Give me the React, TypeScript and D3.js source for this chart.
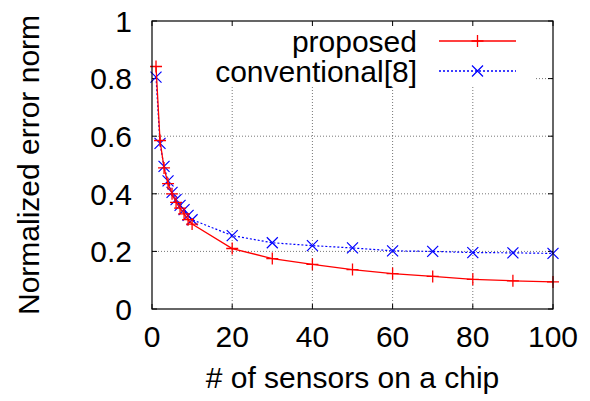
import { useEffect, useRef } from "react";
import * as d3 from "d3";

// sensor counts on the x axis
const sensorCounts = [1, 2, 3, 4, 5, 6, 7, 8, 9, 10, 20, 30, 40, 50, 60, 70, 80, 90, 100];
// normalized error norm
const proposedErr = [0.842, 0.585, 0.49, 0.435, 0.4, 0.37, 0.35, 0.33, 0.31, 0.295, 0.21, 0.175, 0.155, 0.137, 0.123, 0.113, 0.103, 0.098, 0.094];
const conventionalErr = [0.805, 0.575, 0.495, 0.445, 0.405, 0.38, 0.36, 0.345, 0.325, 0.31, 0.255, 0.23, 0.22, 0.212, 0.202, 0.2, 0.196, 0.195, 0.193];
const xTicks = [0, 20, 40, 60, 80, 100];
const yTicks = [0, 0.2, 0.4, 0.6, 0.8, 1];
const seriesNames = ["proposed", "conventional[8]"];

const FONT = "'Liberation Sans', Arial, Helvetica, sans-serif";
const FS = "30px";

const App = () => {
    const svgRef = useRef<SVGSVGElement>(null);

    useEffect(() => {
        document.body.style.margin = "0";
        const svg = d3.select(svgRef.current);
        svg.selectAll("*").remove();

        const width = 590, height = 401;
        const margin = { top: 21, right: 37, bottom: 92, left: 152 };
        const plotW = width - margin.left - margin.right;
        const plotH = height - margin.top - margin.bottom;

        const x = d3.scaleLinear().domain([0, 100]).range([0, plotW]);
        const y = d3.scaleLinear().domain([0, 1]).range([plotH, 0]);

        const g = svg.append("g").attr("transform", `translate(${margin.left},${margin.top})`);

        // grid
        g.selectAll(".vgrid")
            .data(xTicks.slice(1, -1))
            .join("line")
            .attr("x1", d => x(d)).attr("x2", d => x(d))
            .attr("y1", 0).attr("y2", plotH)
            .style("stroke", "#777").style("stroke-width", 1)
            .style("stroke-dasharray", "1,2");
        g.selectAll(".hgrid")
            .data(yTicks.slice(1, -1))
            .join("line")
            .attr("x1", 0).attr("x2", plotW)
            .attr("y1", d => y(d)).attr("y2", d => y(d))
            .style("stroke", "#777").style("stroke-width", 1)
            .style("stroke-dasharray", "1,2");

        // opaque key background
        g.append("rect")
            .attr("x", 0).attr("y", 0)
            .attr("width", 382).attr("height", 65)
            .style("fill", "white");

        // tick marks, mirrored on all four sides
        const tickLen = 5;
        xTicks.forEach(t => {
            g.append("line").attr("x1", x(t)).attr("x2", x(t)).attr("y1", plotH).attr("y2", plotH - tickLen).style("stroke", "#000");
            g.append("line").attr("x1", x(t)).attr("x2", x(t)).attr("y1", 0).attr("y2", tickLen).style("stroke", "#000");
        });
        yTicks.forEach(t => {
            g.append("line").attr("x1", 0).attr("x2", tickLen).attr("y1", y(t)).attr("y2", y(t)).style("stroke", "#000");
            g.append("line").attr("x1", plotW).attr("x2", plotW - tickLen).attr("y1", y(t)).attr("y2", y(t)).style("stroke", "#000");
        });

        // tick labels
        g.selectAll(".xlab")
            .data(xTicks)
            .join("text")
            .attr("x", d => x(d)).attr("y", plotH + 38)
            .attr("text-anchor", "middle")
            .style("font-family", FONT).style("font-size", FS)
            .text(d => String(d));
        g.selectAll(".ylab")
            .data(yTicks)
            .join("text")
            .attr("x", -20).attr("y", d => y(d)).attr("dy", "0.36em")
            .attr("text-anchor", "end")
            .style("font-family", FONT).style("font-size", FS)
            .text(d => String(d));

        // axis titles
        g.append("text")
            .attr("x", plotW / 2).attr("y", plotH + 79)
            .attr("text-anchor", "middle")
            .style("font-family", FONT).style("font-size", FS)
            .text("# of sensors on a chip");
        g.append("text")
            .attr("transform", `translate(${-margin.left + 39},${plotH / 2}) rotate(-90)`)
            .attr("text-anchor", "middle")
            .style("font-family", FONT).style("font-size", FS)
            .text("Normalized error norm");

        const line = d3.line<number>()
            .x((_, i) => x(sensorCounts[i]))
            .y(d => y(d));

        // conventional
        g.append("path")
            .datum(conventionalErr)
            .attr("d", line)
            .style("fill", "none").style("stroke", "#0000ff")
            .style("stroke-width", 1.2).style("stroke-dasharray", "2,2");
        const cross = (sel, cx, cy, s) => {
            sel.append("path")
                .attr("d", `M${cx - s},${cy - s}L${cx + s},${cy + s}M${cx - s},${cy + s}L${cx + s},${cy - s}`)
                .style("stroke", "#0000ff").style("stroke-width", 1.2).style("fill", "none");
        };
        conventionalErr.forEach((v, i) => cross(g, x(sensorCounts[i]), y(v), 5.5));

        // proposed
        g.append("path")
            .datum(proposedErr)
            .attr("d", line)
            .style("fill", "none").style("stroke", "#ff0000")
            .style("stroke-width", 1.3);
        const plus = (sel, cx, cy, s) => {
            sel.append("path")
                .attr("d", `M${cx - s},${cy}L${cx + s},${cy}M${cx},${cy - s}L${cx},${cy + s}`)
                .style("stroke", "#ff0000").style("stroke-width", 1.3).style("fill", "none");
        };
        proposedErr.forEach((v, i) => plus(g, x(sensorCounts[i]), y(v), 6));

        // border
        g.append("rect")
            .attr("x", 0).attr("y", 0).attr("width", plotW).attr("height", plotH)
            .style("fill", "none").style("stroke", "#000").style("stroke-width", 1.2);

        // key
        const keyY = [20, 50];
        seriesNames.forEach((name, i) => {
            g.append("text")
                .attr("x", 265).attr("y", keyY[i]).attr("dy", "0.36em")
                .attr("text-anchor", "end")
                .style("font-family", FONT).style("font-size", FS)
                .text(name);
            g.append("line")
                .attr("x1", 287).attr("x2", 364)
                .attr("y1", keyY[i]).attr("y2", keyY[i])
                .style("stroke", i === 0 ? "#ff0000" : "#0000ff")
                .style("stroke-width", 1.3)
                .style("stroke-dasharray", i === 0 ? null : "2,2");
            if (i === 0) plus(g, 325.5, keyY[i], 6);
            else cross(g, 325.5, keyY[i], 5.5);
        });
    }, []);

    return <svg ref={svgRef} width={590} height={401} style={{ display: "block" }}></svg>;
};

export default App;
